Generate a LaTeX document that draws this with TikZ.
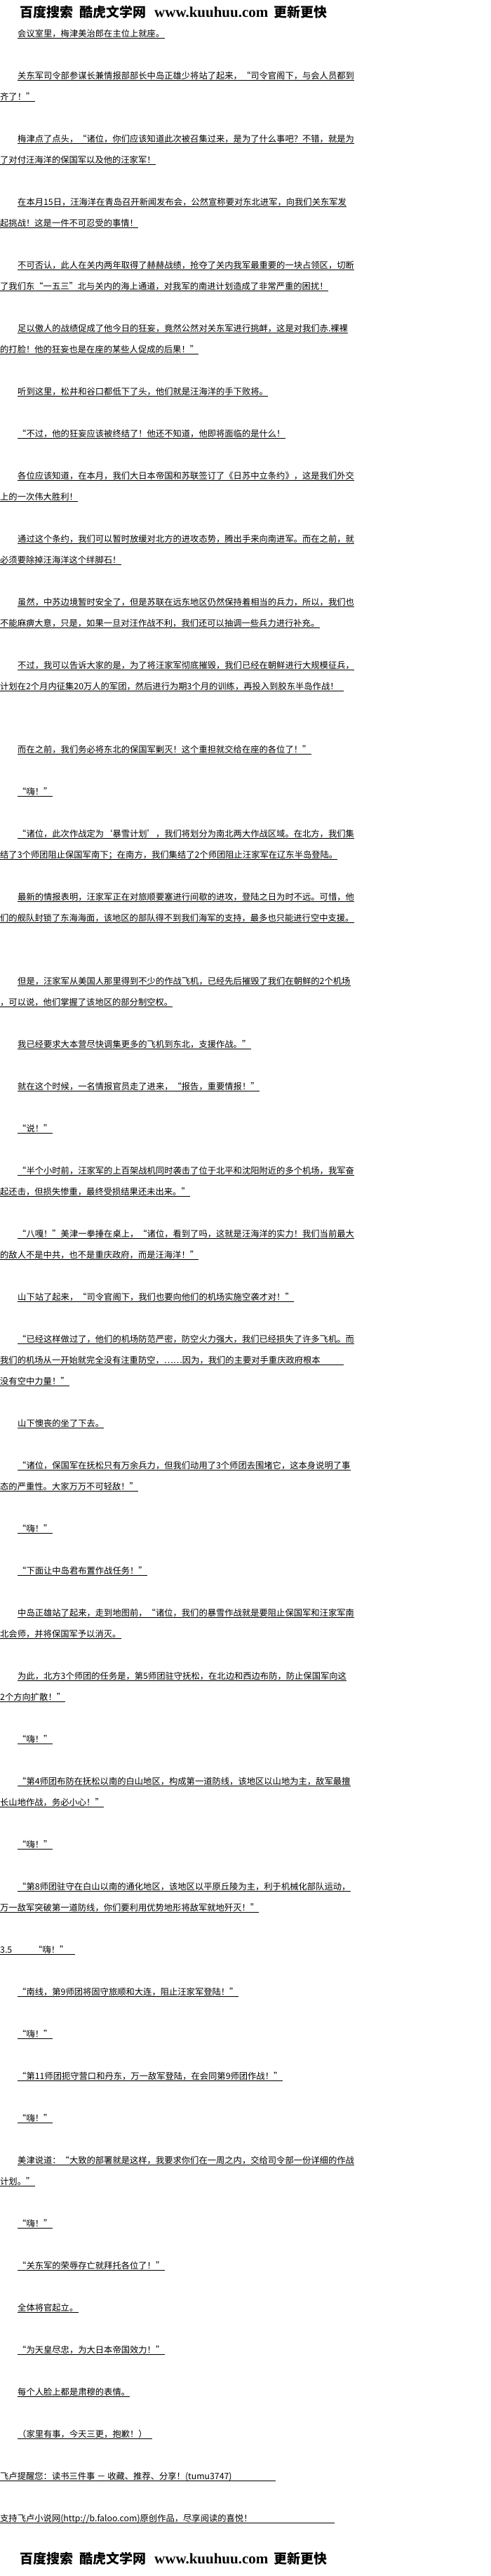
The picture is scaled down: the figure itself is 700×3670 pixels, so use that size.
\documentclass[tikz,border=0pt]{standalone}
\usepackage{fontspec}
\setmainfont{Noto Sans CJK SC}
\newfontfamily\serifb{Liberation Serif}
\newcommand{\pline}[4]{\node[txt] (#1) at (#2,#3+4.7) {#4}; \draw[ul] (#1.south west) -- (#1.south east);}
\newcommand{\plinex}[5]{\node[txt] (#1) at (#2,#3+4.7) {#5}; \coordinate (#1-e) at (#4,0); \draw[ul] (#1.south west) -- (#1.south west -| #1-e);}
\tikzset{
  txt/.style={inner sep=0pt, anchor=base west, text depth=1.5pt, font=\fontsize{12.3}{14}\selectfont},
  ul/.style={line width=0.8pt, black},
  hdr/.style={inner sep=0pt, anchor=west, font=\fontsize{19}{21}\selectfont\bfseries},
  hdrw/.style={inner sep=0pt, anchor=west, font=\fontsize{21}{23}\selectfont\serifb\bfseries}
}
\begin{document}
\begin{tikzpicture}[x=1pt,y=-1pt]
\useasboundingbox (0,0) rectangle (700,3670);
\fill[white] (0,0) rectangle (700,3670);
% header
\node[hdr] (h1) at (28,17) {百度搜索};
\node[hdr] (h2) at (113,17) {酷虎文学网};
\node[hdrw] (h3) at (220,17) {www.kuuhuu.com};
\node[hdr] (h4) at (390,17) {更新更快};
% body
\pline{l1}{25}{48}{会议室里，梅津美治郎在主位上就座。}
\pline{l2}{25}{108}{关东军司令部参谋长兼情报部部长中岛正雄少将站了起来，“司令官阁下，与会人员都到}
\pline{l3}{0}{138}{齐了！”}
\pline{l4}{25}{198}{梅津点了点头，“诸位，你们应该知道此次被召集过来，是为了什么事吧？不错，就是为}
\pline{l5}{0}{228}{了对付汪海洋的保国军以及他的汪家军！}
\pline{l6}{25}{288}{在本月15日，汪海洋在青岛召开新闻发布会，公然宣称要对东北进军，向我们关东军发}
\pline{l7}{0}{318}{起挑战！这是一件不可忍受的事情！}
\pline{l8}{25}{378}{不可否认，此人在关内两年取得了赫赫战绩，抢夺了关内我军最重要的一块占领区，切断}
\pline{l9}{0}{408}{了我们东“一五三”北与关内的海上通道，对我军的南进计划造成了非常严重的困扰！}
\pline{l10}{25}{468}{足以傲人的战绩促成了他今日的狂妄，竟然公然对关东军进行挑衅，这是对我们赤.裸裸}
\pline{l11}{0}{498}{的打脸！他的狂妄也是在座的某些人促成的后果！”}
\pline{l12}{25}{558}{听到这里，松井和谷口都低下了头，他们就是汪海洋的手下败将。}
\pline{l13}{25}{618}{“不过，他的狂妄应该被终结了！他还不知道，他即将面临的是什么！}
\pline{l14}{25}{678}{各位应该知道，在本月，我们大日本帝国和苏联签订了《日苏中立条约》，这是我们外交}
\pline{l15}{0}{708}{上的一次伟大胜利！}
\pline{l16}{25}{768}{通过这个条约，我们可以暂时放缓对北方的进攻态势，腾出手来向南进军。而在之前，就}
\pline{l17}{0}{798}{必须要除掉汪海洋这个绊脚石！}
\pline{l18}{25}{858}{虽然，中苏边境暂时安全了，但是苏联在远东地区仍然保持着相当的兵力，所以，我们也}
\pline{l19}{0}{888}{不能麻痹大意，只是，如果一旦对汪作战不利，我们还可以抽调一些兵力进行补充。}
\pline{l20}{25}{948}{不过，我可以告诉大家的是，为了将汪家军彻底摧毁，我们已经在朝鲜进行大规模征兵，}
\plinex{l21}{0}{978}{490}{计划在2个月内征集20万人的军团，然后进行为期3个月的训练，再投入到胶东半岛作战！}
\pline{l22}{25}{1068}{而在之前，我们务必将东北的保国军剿灭！这个重担就交给在座的各位了！”}
\pline{l23}{25}{1128}{“嗨！”}
\pline{l24}{25}{1188}{“诸位，此次作战定为‘暴雪计划’，我们将划分为南北两大作战区域。在北方，我们集}
\pline{l25}{0}{1218}{结了3个师团阻止保国军南下；在南方，我们集结了2个师团阻止汪家军在辽东半岛登陆。}
\pline{l26}{25}{1278}{最新的情报表明，汪家军正在对旅顺要塞进行间歇的进攻，登陆之日为时不远。可惜，他}
\pline{l27}{0}{1308}{们的舰队封锁了东海海面，该地区的部队得不到我们海军的支持，最多也只能进行空中支援。}
\pline{l28}{25}{1398}{但是，汪家军从美国人那里得到不少的作战飞机，已经先后摧毁了我们在朝鲜的2个机场}
\pline{l29}{0}{1428}{，可以说，他们掌握了该地区的部分制空权。}
\pline{l30}{25}{1488}{我已经要求大本营尽快调集更多的飞机到东北，支援作战。”}
\pline{l31}{25}{1548}{就在这个时候，一名情报官员走了进来，“报告，重要情报！”}
\pline{l32}{25}{1608}{“说！”}
\pline{l33}{25}{1668}{“半个小时前，汪家军的上百架战机同时袭击了位于北平和沈阳附近的多个机场，我军奋}
\pline{l34}{0}{1698}{起还击，但损失惨重，最终受损结果还未出来。”}
\pline{l35}{25}{1758}{“八嘎！”美津一拳捶在桌上，“诸位，看到了吗，这就是汪海洋的实力！我们当前最大}
\pline{l36}{0}{1788}{的敌人不是中共，也不是重庆政府，而是汪海洋！”}
\pline{l37}{25}{1848}{山下站了起来，“司令官阁下，我们也要向他们的机场实施空袭才对！”}
\pline{l38}{25}{1908}{“已经这样做过了，他们的机场防范严密，防空火力强大，我们已经损失了许多飞机。而}
\plinex{l39}{0}{1938}{490}{我们的机场从一开始就完全没有注重防空，……因为，我们的主要对手重庆政府根本}
\pline{l40}{0}{1968}{没有空中力量！”}
\pline{l41}{25}{2028}{山下懊丧的坐了下去。}
\pline{l42}{25}{2088}{“诸位，保国军在抚松只有万余兵力，但我们动用了3个师团去围堵它，这本身说明了事}
\pline{l43}{0}{2118}{态的严重性。大家万万不可轻敌！”}
\pline{l44}{25}{2178}{“嗨！”}
\pline{l45}{25}{2238}{“下面让中岛君布置作战任务！”}
\pline{l46}{25}{2298}{中岛正雄站了起来，走到地图前，“诸位，我们的暴雪作战就是要阻止保国军和汪家军南}
\pline{l47}{0}{2328}{北会师，并将保国军予以消灭。}
\pline{l48}{25}{2388}{为此，北方3个师团的任务是，第5师团驻守抚松，在北边和西边布防，防止保国军向这}
\pline{l49}{0}{2418}{2个方向扩散！”}
\pline{l50}{25}{2478}{“嗨！”}
\pline{l51}{25}{2538}{“第4师团布防在抚松以南的白山地区，构成第一道防线，该地区以山地为主，敌军最擅}
\pline{l52}{0}{2568}{长山地作战，务必小心！”}
\pline{l53}{25}{2628}{“嗨！”}
\pline{l54}{25}{2688}{“第8师团驻守在白山以南的通化地区，该地区以平原丘陵为主，利于机械化部队运动，}
\pline{l55}{0}{2718}{万一敌军突破第一道防线，你们要利用优势地形将敌军就地歼灭！”}
\plinex{l56}{0}{2778}{107}{3.5}
\node[txt] (l56b) at (48,2778+4.7) {“嗨！”};
\pline{l57}{25}{2838}{“南线，第9师团将固守旅顺和大连，阻止汪家军登陆！”}
\pline{l58}{25}{2898}{“嗨！”}
\pline{l59}{25}{2958}{“第11师团扼守营口和丹东，万一敌军登陆，在会同第9师团作战！”}
\pline{l60}{25}{3018}{“嗨！”}
\pline{l61}{25}{3078}{美津说道：“大致的部署就是这样，我要求你们在一周之内，交给司令部一份详细的作战}
\pline{l62}{0}{3108}{计划。”}
\pline{l63}{25}{3168}{“嗨！”}
\pline{l64}{25}{3228}{“关东军的荣辱存亡就拜托各位了！”}
\pline{l65}{25}{3288}{全体将官起立。}
\pline{l66}{25}{3348}{“为天皇尽忠，为大日本帝国效力！”}
\pline{l67}{25}{3408}{每个人脸上都是肃穆的表情。}
\plinex{l68}{25}{3468}{217}{（家里有事，今天三更，抱歉！）}
\plinex{l69}{0}{3528}{393}{飞卢提醒您：读书三件事 － 收藏、推荐、分享！(tumu3747)}
\plinex{l70}{0}{3588}{477}{支持飞卢小说网(http://b.faloo.com)原创作品，尽享阅读的喜悦！}
% footer
\node[hdr] (f1) at (28,3645) {百度搜索};
\node[hdr] (f2) at (113,3645) {酷虎文学网};
\node[hdrw] (f3) at (220,3645) {www.kuuhuu.com};
\node[hdr] (f4) at (390,3645) {更新更快};
\end{tikzpicture}
\end{document}
